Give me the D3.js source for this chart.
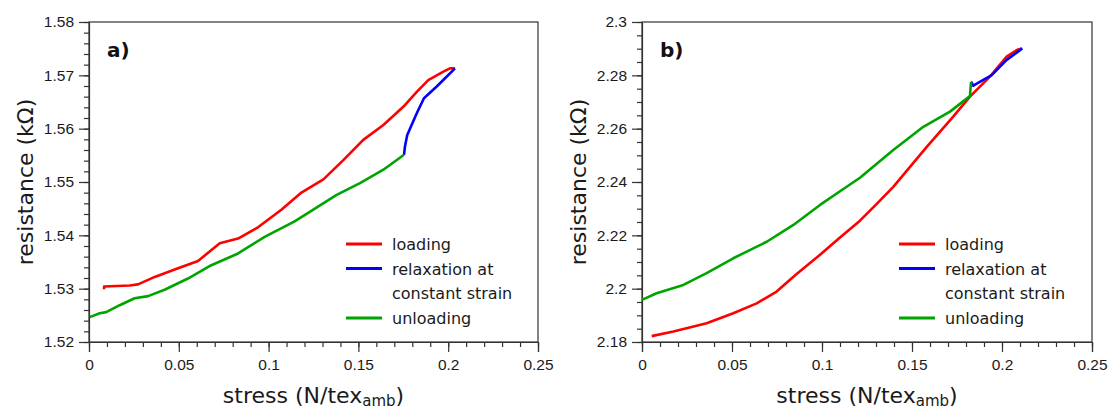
<!DOCTYPE html>
<html>
<head>
<meta charset="utf-8">
<script src="https://cdn.jsdelivr.net/npm/d3@7"></script>
<style>
  html, body { margin: 0; padding: 0; background: #fff; }
  svg { display: block; font-family: "DejaVu Sans", Verdana, sans-serif; }
</style>
</head>
<body>
<svg id="chart" width="1110" height="409"></svg>
<script>
// panel a) values: [stress, resistance]
const loadingA = [
  [0.0084, 1.5299], [0.0084, 1.5304], [0.0227, 1.5306], [0.0273, 1.5308], [0.0366, 1.5322],
  [0.0477, 1.5336], [0.0607, 1.5352], [0.0728, 1.5385], [0.0830, 1.5394], [0.0941, 1.5415],
  [0.1071, 1.5448], [0.1178, 1.5479], [0.1305, 1.5505], [0.1416, 1.5541], [0.1527, 1.5579],
  [0.1639, 1.5607], [0.1750, 1.5641], [0.1825, 1.5669], [0.1889, 1.5691], [0.1973, 1.5707],
  [0.2010, 1.5713], [0.2038, 1.5713]
];
const relaxA = [
  [0.2038, 1.5713], [0.1936, 1.5679], [0.1865, 1.5657], [0.1825, 1.5629],
  [0.1772, 1.5588], [0.1759, 1.5566], [0.1754, 1.5551]
];
const unloadA = [
  [0.1754, 1.5551], [0.1639, 1.5523], [0.1509, 1.5498], [0.1379, 1.5476], [0.1271, 1.5453],
  [0.1145, 1.5426], [0.0978, 1.5397], [0.0830, 1.5366], [0.0681, 1.5344], [0.0551, 1.5319],
  [0.0421, 1.5298], [0.0329, 1.5286], [0.0254, 1.5282], [0.0171, 1.5269], [0.0096, 1.5256],
  [0.0060, 1.5254], [0.0022, 1.5249], [0.0004, 1.5247]
];

// panel b)
const loadingB = [
  [0.0054, 2.1822], [0.0174, 2.1839], [0.0359, 2.1870], [0.0507, 2.1908], [0.0637, 2.1945],
  [0.0748, 2.1989], [0.0859, 2.2055], [0.0989, 2.2127], [0.1100, 2.2192], [0.1211, 2.2255],
  [0.1300, 2.2315], [0.1396, 2.2382], [0.1582, 2.2532], [0.1729, 2.2645], [0.1822, 2.2720],
  [0.1933, 2.2795], [0.2026, 2.2870], [0.2082, 2.2895], [0.2109, 2.2901]
];
const relaxB = [
  [0.2113, 2.2901], [0.2026, 2.2858], [0.1943, 2.2801], [0.1896, 2.2783],
  [0.1841, 2.2761], [0.1828, 2.2776]
];
const unloadB = [
  [0.1828, 2.2776], [0.1822, 2.2722], [0.1711, 2.2664], [0.1563, 2.2607], [0.1396, 2.2520],
  [0.1211, 2.2416], [0.1137, 2.2382], [0.0989, 2.2314], [0.0841, 2.2239], [0.0693, 2.2176],
  [0.0507, 2.2114], [0.0359, 2.2058], [0.0230, 2.2014], [0.0081, 2.1983], [0.0000, 2.1958]
];

const xTicks = [0, 0.05, 0.1, 0.15, 0.2, 0.25];
const yTicksA = [1.52, 1.53, 1.54, 1.55, 1.56, 1.57, 1.58];
const yTicksB = [2.18, 2.2, 2.22, 2.24, 2.26, 2.28, 2.3];
const legendLabels = ["loading", "relaxation at", "unloading"];
const seriesColors = ["#ff0000", "#0000ff", "#00a400"];

const svg = d3.select("#chart");
const axisColor = "#333";
const textColor = "#1a1a1a";

function drawPanel(opts) {
  const { left, top, width, height, yDomain, yTicks, yMinorStep, series, tag, yFormat } = opts;
  const g = svg.append("g").attr("transform", `translate(${left},${top})`);

  const x = d3.scaleLinear().domain([0, 0.25]).range([0, width]);
  const y = d3.scaleLinear().domain(yDomain).range([height, 0]);

  const xMinor = d3.range(0, 0.2501, 0.01).map((v) => +v.toFixed(3));
  const yMinor = d3.range(yDomain[0], yDomain[1] + 1e-6, yMinorStep).map((v) => +v.toFixed(4));

  // minor ticks
  g.append("g")
    .attr("transform", `translate(0,${height})`)
    .call(d3.axisBottom(x).tickValues(xMinor).tickSize(5).tickFormat(""))
    .call((a) => a.select(".domain").remove());
  g.append("g")
    .call(d3.axisLeft(y).tickValues(yMinor).tickSize(5).tickFormat(""))
    .call((a) => a.select(".domain").remove());

  // major ticks
  const xAxis = g.append("g")
    .attr("transform", `translate(0,${height})`)
    .call(d3.axisBottom(x).tickValues(xTicks).tickSize(10).tickPadding(7).tickFormat(d3.format("~g")));
  const yAxis = g.append("g")
    .call(d3.axisLeft(y).tickValues(yTicks).tickSize(10).tickPadding(5).tickFormat(yFormat));

  [xAxis, yAxis].forEach((a) => {
    a.selectAll("text").attr("font-size", 15.5).attr("fill", textColor).attr("font-family", null);
  });
  g.selectAll(".tick line").attr("stroke", axisColor).attr("stroke-width", 1.2);
  g.selectAll(".domain").attr("stroke", axisColor).attr("stroke-width", 1.2);

  // frame
  g.append("rect")
    .attr("width", width)
    .attr("height", height)
    .attr("fill", "none")
    .attr("stroke", axisColor)
    .attr("stroke-width", 1.2);

  const line = d3.line().x((d) => x(d[0])).y((d) => y(d[1]));
  series.forEach((s, i) => {
    g.append("path")
      .datum(s)
      .attr("d", line)
      .attr("fill", "none")
      .attr("stroke", seriesColors[i])
      .attr("stroke-width", 2.6)
      .attr("stroke-linejoin", "round");
  });

  // panel tag
  g.append("text")
    .attr("x", 18)
    .attr("y", 35)
    .attr("font-size", 20)
    .attr("font-weight", "bold")
    .attr("fill", "#111")
    .text(tag);

  // legend
  const lg = g.append("g").attr("transform", `translate(257,222)`);
  const rows = [0, 24.5, 74];
  legendLabels.forEach((label, i) => {
    lg.append("line")
      .attr("x1", 0).attr("x2", 36)
      .attr("y1", rows[i]).attr("y2", rows[i])
      .attr("stroke", seriesColors[i])
      .attr("stroke-width", 3);
    lg.append("text")
      .attr("x", 46)
      .attr("y", rows[i] + 6)
      .attr("font-size", 16)
      .attr("fill", textColor)
      .text(label);
  });
  lg.append("text")
    .attr("x", 46)
    .attr("y", 49 + 6)
    .attr("font-size", 16)
    .attr("fill", textColor)
    .text("constant strain");

  // axis titles
  const xt = g.append("text")
    .attr("x", width / 2)
    .attr("y", height + 61)
    .attr("text-anchor", "middle")
    .attr("font-size", 22)
    .attr("fill", textColor);
  xt.append("tspan").text("stress (N/tex");
  xt.append("tspan").attr("font-size", 15).attr("dy", 3).text("amb");
  xt.append("tspan").attr("dy", -3).text(")");

  g.append("text")
    .attr("transform", `translate(${-56},${height / 2}) rotate(-90)`)
    .attr("text-anchor", "middle")
    .attr("font-size", 22)
    .attr("fill", textColor)
    .text("resistance (kΩ)");
}

drawPanel({
  left: 89, top: 22, width: 449, height: 320,
  yDomain: [1.52, 1.58], yTicks: yTicksA, yMinorStep: 0.002,
  series: [loadingA, relaxA, unloadA], tag: "a)", yFormat: d3.format(".2f")
});

drawPanel({
  left: 642, top: 22, width: 450, height: 320,
  yDomain: [2.18, 2.3], yTicks: yTicksB, yMinorStep: 0.005,
  series: [loadingB, relaxB, unloadB], tag: "b)", yFormat: d3.format("~g")
});
</script>
</body>
</html>
